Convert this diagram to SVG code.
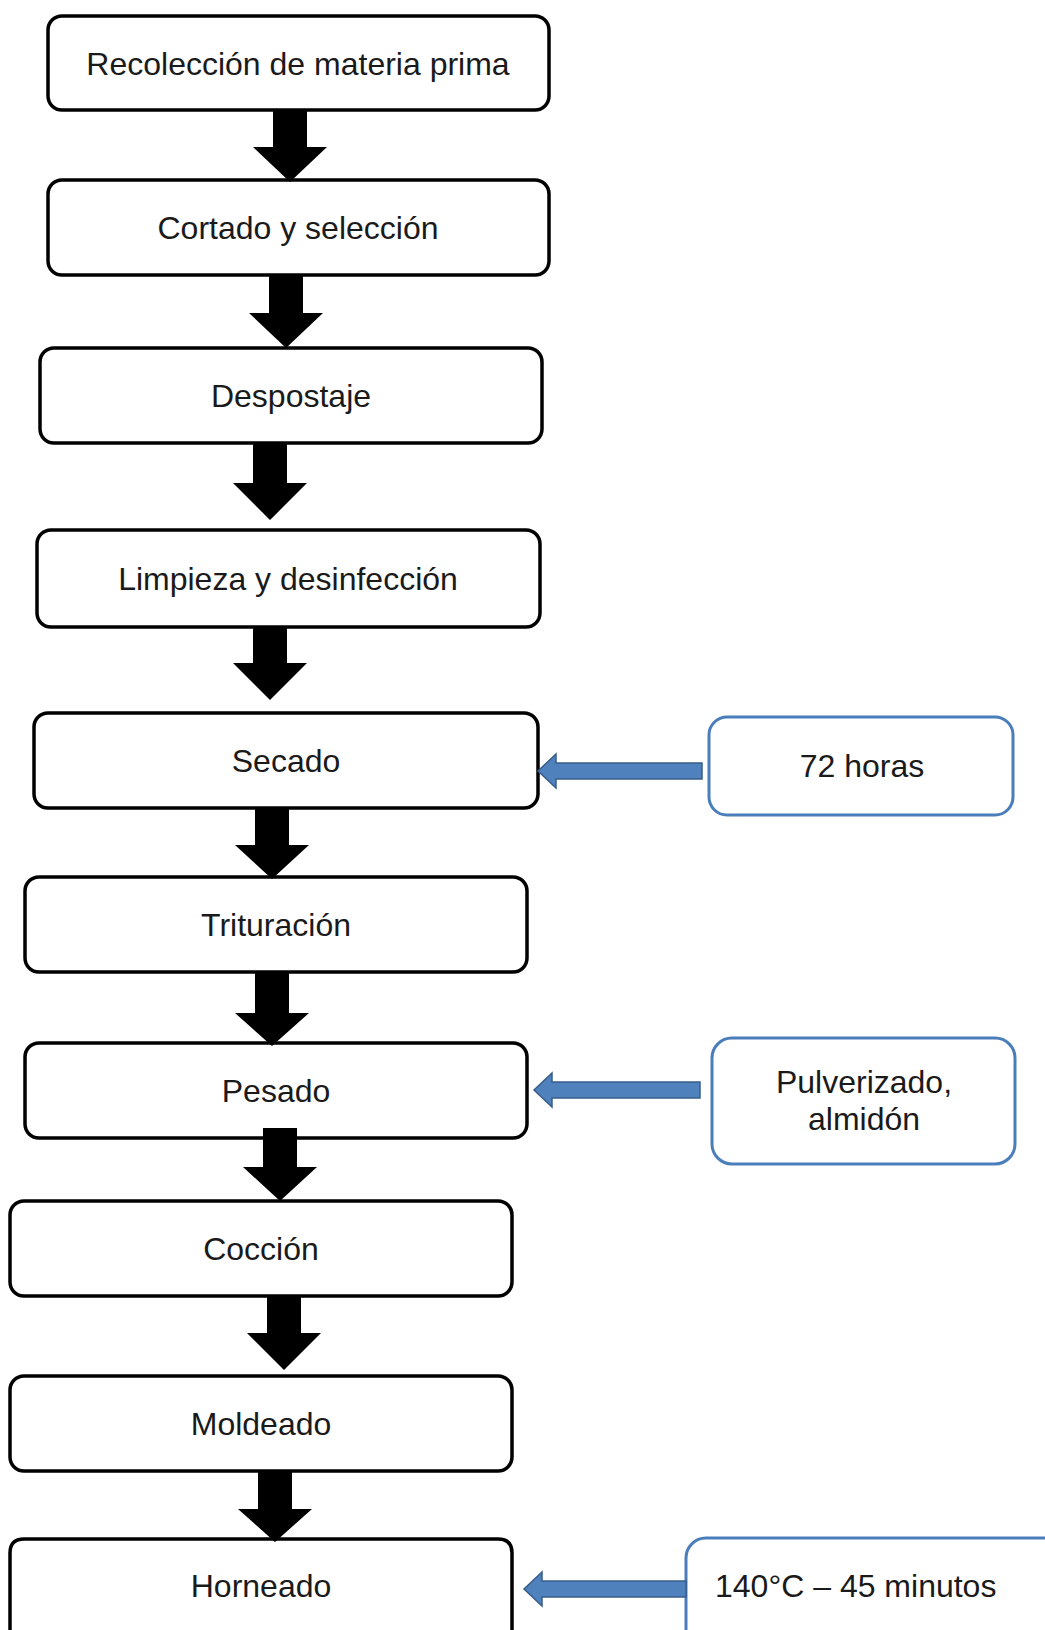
<svg xmlns="http://www.w3.org/2000/svg" width="1045" height="1630" viewBox="0 0 1045 1630">
<style>
.box{fill:#ffffff;stroke:#000000;stroke-width:3.5}
.side{fill:#ffffff;stroke:#4a7ebb;stroke-width:3}
.t{font-family:"Liberation Sans",Arial,sans-serif;font-size:32px;fill:#1a1a1a;text-anchor:middle}
.tl{font-family:"Liberation Sans",Arial,sans-serif;font-size:32px;fill:#1a1a1a}
.ba{fill:#000000}
.blue{fill:#4f81bd;stroke:#385d8a;stroke-width:1.5}
</style>
<rect width="1045" height="1630" fill="#ffffff"/>
<g id="n1"><rect class="box" x="48" y="16" width="501" height="94" rx="14"/><text class="t" x="298" y="75">Recolección de materia prima</text></g>
<g id="n2"><rect class="box" x="48" y="180" width="501" height="95" rx="14"/><text class="t" x="298" y="239">Cortado y selección</text></g>
<g id="n3"><rect class="box" x="40" y="348" width="502" height="95" rx="14"/><text class="t" x="291" y="407">Despostaje</text></g>
<g id="n4"><rect class="box" x="37" y="530" width="503" height="97" rx="14"/><text class="t" x="288" y="590">Limpieza y desinfección</text></g>
<g id="n5"><rect class="box" x="34" y="713" width="504" height="95" rx="14"/><text class="t" x="286" y="772">Secado</text></g>
<g id="n6"><rect class="box" x="25" y="877" width="502" height="95" rx="14"/><text class="t" x="276" y="936">Trituración</text></g>
<g id="n7"><rect class="box" x="25" y="1043" width="502" height="95" rx="14"/><text class="t" x="276" y="1102">Pesado</text></g>
<g id="n8"><rect class="box" x="10" y="1201" width="502" height="95" rx="14"/><text class="t" x="261" y="1260">Cocción</text></g>
<g id="n9"><rect class="box" x="10" y="1376" width="502" height="95" rx="14"/><text class="t" x="261" y="1435">Moldeado</text></g>
<g id="n10"><path class="box" d="M10,1632 V1553 Q10,1539 24,1539 H498 Q512,1539 512,1553 V1632"/><text class="t" x="261" y="1597">Horneado</text></g>
<g id="s1"><rect class="side" x="709" y="717" width="304" height="98" rx="18"/><text class="t" x="862" y="777">72 horas</text></g>
<g id="s2"><rect class="side" x="712" y="1038" width="303" height="126" rx="20"/><text class="t" x="864" y="1093">Pulverizado,</text><text class="t" x="864" y="1130">almidón</text></g>
<g id="s3"><rect class="side" x="686" y="1538" width="380" height="120" rx="20"/><text class="tl" x="715" y="1597">140°C – 45 minutos</text></g>
<g id="connectors">
<polygon class="ba" points="273,110 307,110 307,147 327,147 290,182 253,147 273,147"/>
<polygon class="ba" points="269,275 303,275 303,313 323,313 286,348 249,313 269,313"/>
<polygon class="ba" points="253,443 287,443 287,483 307,483 270,520 233,483 253,483"/>
<polygon class="ba" points="253,627 287,627 287,663 307,663 270,700 233,663 253,663"/>
<polygon class="ba" points="255,808 289,808 289,845 309,845 272,879 235,845 255,845"/>
<polygon class="ba" points="255,972 289,972 289,1013 309,1013 272,1046 235,1013 255,1013"/>
<polygon class="ba" points="263,1128 297,1128 297,1167 317,1167 280,1201 243,1167 263,1167"/>
<polygon class="ba" points="267,1296 301,1296 301,1333 321,1333 284,1370 247,1333 267,1333"/>
<polygon class="ba" points="258,1471 292,1471 292,1509 312,1509 275,1542 238,1509 258,1509"/>
<polygon class="blue" points="702,763 702,779 556,779 556,788 538,771 556,754 556,763"/>
<polygon class="blue" points="700,1082 700,1098 552,1098 552,1107 534,1090 552,1073 552,1082"/>
<polygon class="blue" points="686,1581 686,1597 542,1597 542,1606 524,1589 542,1572 542,1581"/>
</g>
</svg>
